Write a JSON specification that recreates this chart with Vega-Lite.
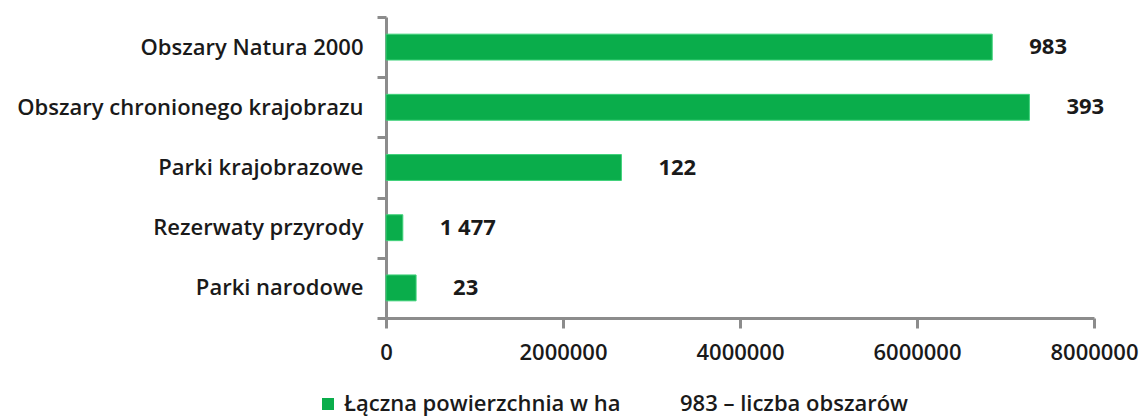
{
  "$schema": "https://vega.github.io/schema/vega-lite/v6.json",
  "autosize": {"type": "none"},
  "padding": {"left": 386, "top": 17, "right": 53, "bottom": 101},
  "width": 708,
  "height": 301,
  "background": "white",
  "config": {
    "view": {"stroke": null},
    "font": "Open Sans",
    "axis": {"labelFont": "Open Sans", "labelColor": "#1a1a1a", "labelFontSize": 22, "labelFontWeight": 600, "labelLimit": 0, "domainColor": "#8c8c8c", "tickColor": "#8c8c8c", "domainWidth": 3, "tickWidth": 3}
  },
  "data": {
    "values": [
      {"kategoria": "Obszary Natura 2000", "powierzchnia": 6850000, "liczba": "983"},
      {"kategoria": "Obszary chronionego krajobrazu", "powierzchnia": 7270000, "liczba": "393"},
      {"kategoria": "Parki krajobrazowe", "powierzchnia": 2660000, "liczba": "122"},
      {"kategoria": "Rezerwaty przyrody", "powierzchnia": 190000, "liczba": "1 477"},
      {"kategoria": "Parki narodowe", "powierzchnia": 340000, "liczba": "23"}
    ]
  },
  "encoding": {
    "y": {
      "field": "kategoria", "type": "nominal", "sort": null, "title": null,
      "scale": {"paddingInner": 0, "paddingOuter": 0},
      "axis": {"tickBand": "extent", "tickSize": 9, "labelPadding": 14}
    },
    "x": {
      "field": "powierzchnia", "type": "quantitative", "title": null,
      "scale": {"domain": [0, 8000000], "nice": false},
      "axis": {"values": [0, 2000000, 4000000, 6000000, 8000000], "format": "d", "grid": false, "tickSize": 10, "labelPadding": 14, "labelFlush": false, "labelFontSize": 22}
    }
  },
  "layer": [
    {
      "mark": {"type": "bar", "height": {"band": 0.43}, "stroke": "#3fd27a", "strokeWidth": 1},
      "encoding": {
        "color": {
          "datum": "Łączna powierzchnia w ha",
          "scale": {"domain": ["Łączna powierzchnia w ha", "983 – liczba obszarów"], "range": ["#0aad4b", "rgba(0,0,0,0)"]},
          "legend": {
            "title": null, "orient": "none", "direction": "horizontal",
            "legendX": -69, "legendY": 376,
            "symbolType": "square", "symbolSize": 144, "symbolStrokeWidth": 0,
            "labelFont": "Open Sans", "labelFontSize": 22, "labelFontWeight": 600, "labelColor": "#1a1a1a", "labelLimit": 0,
            "labelOffset": 5, "columnPadding": 32
          }
        }
      }
    },
    {
      "mark": {"type": "text", "align": "left", "dx": 37, "font": "Open Sans", "fontSize": 22, "fontWeight": "bold", "color": "#1a1a1a"},
      "encoding": {"text": {"field": "liczba"}}
    }
  ]
}
